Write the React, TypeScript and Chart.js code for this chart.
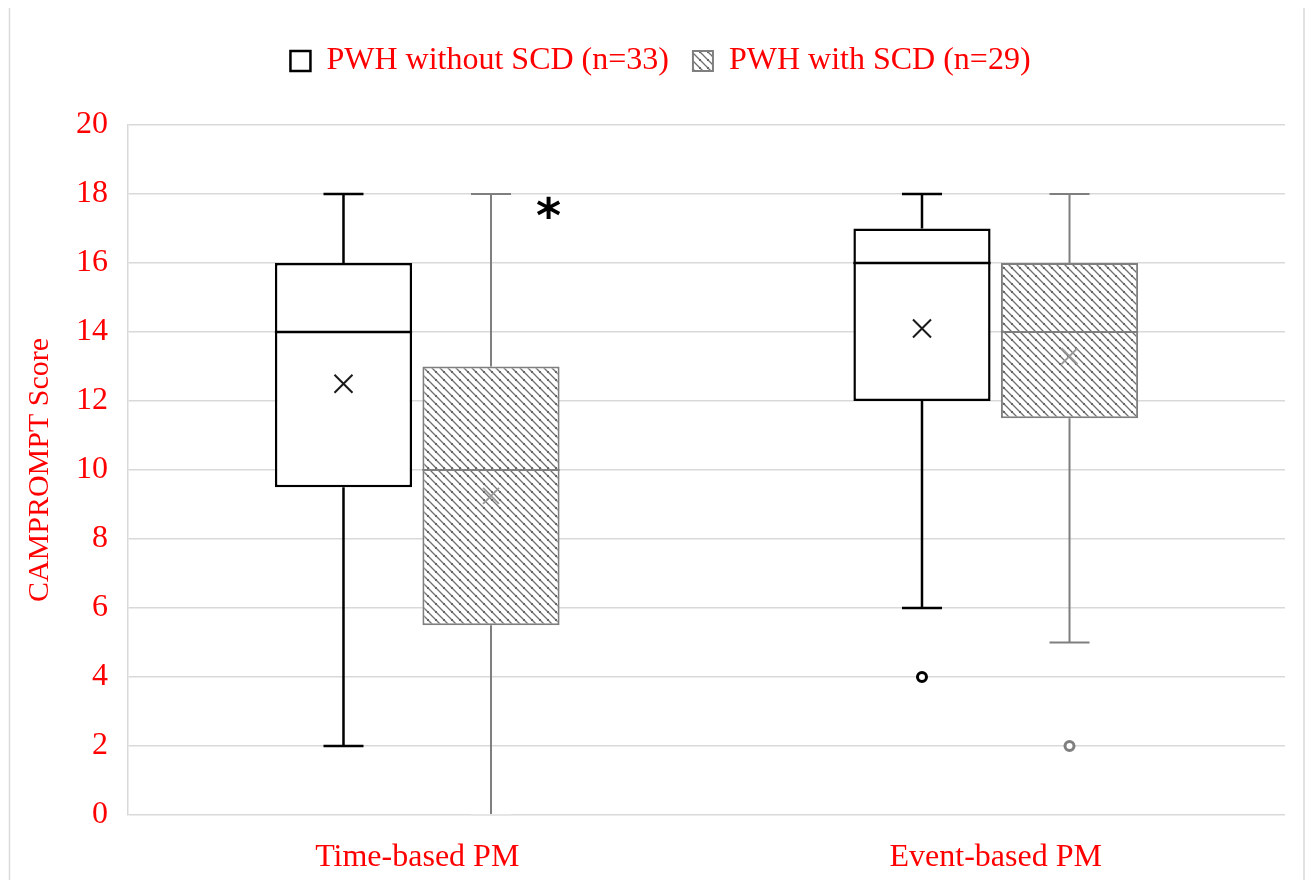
import React, { useEffect, useRef } from "react";
import { Chart, registerables } from "chart.js";

Chart.register(...registerables);

// ---------- data ----------
const categories = ["Time-based PM", "Event-based PM"];
const seriesNames = ["PWH without SCD (n=33)", "PWH with SCD (n=29)"];

const minsNoSCD = [2, 6];
const q1NoSCD = [9.5, 12];
const medianNoSCD = [14, 16];
const q3NoSCD = [16, 17];
const maxNoSCD = [18, 18];
const meanNoSCD = [12.5, 14.1];
const outliersNoSCD = [[], [4]];

const minsSCD = [0, 5];
const q1SCD = [5.5, 11.5];
const medianSCD = [10, 14];
const q3SCD = [13, 16];
const maxSCD = [18, 18];
const meanSCD = [9.25, 13.3];
const outliersSCD = [[], [2]];

const yMin = 0;
const yMax = 20;
const yStep = 2;

const significanceMarks = [{ category: 0, value: 17.6, text: "*" }];

const stats = [
  { min: minsNoSCD, q1: q1NoSCD, med: medianNoSCD, q3: q3NoSCD, max: maxNoSCD, mean: meanNoSCD, out: outliersNoSCD },
  { min: minsSCD, q1: q1SCD, med: medianSCD, q3: q3SCD, max: maxSCD, mean: meanSCD, out: outliersSCD },
];

// ---------- styles ----------
const RED = "#ff0000";
const GRID = "#d9d9d9";
const SERIF = "'Liberation Serif', 'Times New Roman', serif";
const seriesStroke = ["#000000", "#7f7f7f"];
const seriesLineWidth = [2.5, 2];
const meanStroke = ["#1a1a1a", "#9a9a9a"];

function makeHatch(ctx: CanvasRenderingContext2D | null) {
  const c = document.createElement("canvas");
  c.width = 8;
  c.height = 8;
  const g = c.getContext("2d")!;
  g.fillStyle = "#ffffff";
  g.fillRect(0, 0, 8, 8);
  g.strokeStyle = "#6f6f6f";
  g.lineWidth = 1.3;
  g.beginPath();
  g.moveTo(-1, -1);
  g.lineTo(9, 9);
  g.moveTo(-1, 7);
  g.lineTo(1, 9);
  g.moveTo(7, -1);
  g.lineTo(9, 1);
  g.stroke();
  g.fillStyle = "#666";
  g.fillRect(3, 3, 2, 2);
  return (ctx || g).createPattern(c, "repeat");
}

const boxExtras = {
  id: "boxExtras",
  afterDatasetsDraw(chart: any) {
    const ctx = chart.ctx;
    const y = chart.scales.y;
    stats.forEach((s, d) => {
      const meta = chart.getDatasetMeta(d);
      meta.data.forEach((bar: any, i: number) => {
        const x = bar.x;
        const w = bar.width;
        const capHalf = 20;
        ctx.save();
        ctx.strokeStyle = seriesStroke[d];
        ctx.lineWidth = seriesLineWidth[d];
        ctx.lineCap = "butt";
        const pMax = y.getPixelForValue(s.max[i]);
        const pQ3 = y.getPixelForValue(s.q3[i]);
        const pQ1 = y.getPixelForValue(s.q1[i]);
        const pMin = y.getPixelForValue(s.min[i]);
        ctx.beginPath();
        ctx.moveTo(x, pQ3);
        ctx.lineTo(x, pMax);
        ctx.moveTo(x - capHalf, pMax);
        ctx.lineTo(x + capHalf, pMax);
        ctx.moveTo(x, pQ1);
        ctx.lineTo(x, pMin);
        ctx.stroke();
        ctx.save();
        if (s.min[i] === yMin) ctx.strokeStyle = "#e6e6e6";
        ctx.beginPath();
        ctx.moveTo(x - capHalf, pMin);
        ctx.lineTo(x + capHalf, pMin);
        ctx.stroke();
        ctx.restore();
        // median
        const pMed = y.getPixelForValue(s.med[i]);
        ctx.beginPath();
        ctx.moveTo(x - w / 2, pMed);
        ctx.lineTo(x + w / 2, pMed);
        ctx.stroke();
        // mean
        const pMean = y.getPixelForValue(s.mean[i]);
        const m = d === 0 ? 9 : 8;
        ctx.strokeStyle = meanStroke[d];
        ctx.lineWidth = 2;
        ctx.beginPath();
        ctx.moveTo(x - m, pMean - m);
        ctx.lineTo(x + m, pMean + m);
        ctx.moveTo(x + m, pMean - m);
        ctx.lineTo(x - m, pMean + m);
        ctx.stroke();
        // outliers
        ctx.strokeStyle = seriesStroke[d];
        ctx.lineWidth = 3;
        s.out[i].forEach((v: number) => {
          ctx.beginPath();
          ctx.arc(x, y.getPixelForValue(v), 4.5, 0, Math.PI * 2);
          ctx.fillStyle = "#ffffff";
          ctx.fill();
          ctx.stroke();
        });
        ctx.restore();
      });
    });
    const meta2 = chart.getDatasetMeta(1);
    significanceMarks.forEach((sm) => {
      const bar = meta2.data[sm.category];
      const x = bar.x + bar.width / 2 - 11;
      const py = y.getPixelForValue(sm.value);
      ctx.save();
      ctx.fillStyle = "#000";
      ctx.font = "bold 48px 'DejaVu Sans'";
      ctx.textAlign = "center";
      ctx.textBaseline = "alphabetic";
      const mt = ctx.measureText(sm.text);
      ctx.fillText(sm.text, x, py + (mt.actualBoundingBoxAscent - mt.actualBoundingBoxDescent) / 2);
      ctx.restore();
    });
  },
};

const frame = {
  id: "frame",
  afterDraw(chart: any) {
    const ctx = chart.ctx;
    ctx.save();
    ctx.strokeStyle = GRID;
    ctx.lineWidth = 1.5;
    ctx.beginPath();
    ctx.moveTo(1.5, 0);
    ctx.lineTo(1.5, chart.height);
    ctx.moveTo(chart.width - 1, 0);
    ctx.lineTo(chart.width - 1, chart.height);
    ctx.stroke();
    ctx.restore();
  },
};

const legendSpacer = {
  id: "legendSpacer",
  beforeLayout(chart: any) {
    const lg = chart.legend;
    if (lg && !lg._spacerPatched) {
      const orig = lg.fit;
      lg.fit = function () {
        orig.call(this);
        this.height += 38;
      };
      lg._spacerPatched = true;
    }
  },
};

export default function App() {
  const ref = useRef<HTMLCanvasElement | null>(null);
  useEffect(() => {
    const canvas = ref.current!;
    const hatch = makeHatch(canvas.getContext("2d"));
    const chart = new Chart(canvas, {
      type: "bar",
      data: {
        labels: categories,
        datasets: [
          {
            label: seriesNames[0],
            data: q1NoSCD.map((v, i) => [v, q3NoSCD[i]]) as any,
            backgroundColor: "#ffffff",
            borderColor: seriesStroke[0],
            borderWidth: seriesLineWidth[0],
            borderSkipped: false,
            categoryPercentage: 0.51,
            barPercentage: 0.93,
          },
          {
            label: seriesNames[1],
            data: q1SCD.map((v, i) => [v, q3SCD[i]]) as any,
            backgroundColor: hatch as any,
            borderColor: seriesStroke[1],
            borderWidth: seriesLineWidth[1],
            borderSkipped: false,
            categoryPercentage: 0.51,
            barPercentage: 0.93,
          },
        ],
      },
      options: {
        responsive: false,
        animation: false,
        events: [],
        layout: { padding: { top: 13, right: 20, left: 28, bottom: 0 } },
        plugins: {
          tooltip: { enabled: false },
          legend: {
            position: "top",
            labels: {
              color: RED,
              font: { family: SERIF, size: 32 },
              boxWidth: 20,
              boxHeight: 20,
              padding: 24,
            },
          },
        },
        scales: {
          x: {
            grid: { display: false },
            border: { display: false },
            ticks: { color: RED, font: { family: SERIF, size: 32 }, padding: 15 },
            afterFit: (s: any) => {
              s.height = 65;
            },
          },
          y: {
            min: yMin,
            max: yMax,
            ticks: { stepSize: yStep, color: RED, font: { family: SERIF, size: 32 }, padding: 20 },
            grid: { color: GRID, lineWidth: 1.5, drawTicks: false },
            border: { display: true, color: GRID, width: 1.5 },
            title: {
              display: true,
              text: "CAMPROMPT Score",
              color: RED,
              font: { family: SERIF, size: 30 },
              padding: { top: -14, bottom: 0 },
            },
            afterFit: (s: any) => {
              s.width = 92;
            },
          },
        },
      },
      plugins: [boxExtras, frame, legendSpacer],
    });
    return () => chart.destroy();
  }, []);
  return <canvas ref={ref} width={1297} height={872} style={{ display: "block", width: 1297, height: 872 }} />;
}
